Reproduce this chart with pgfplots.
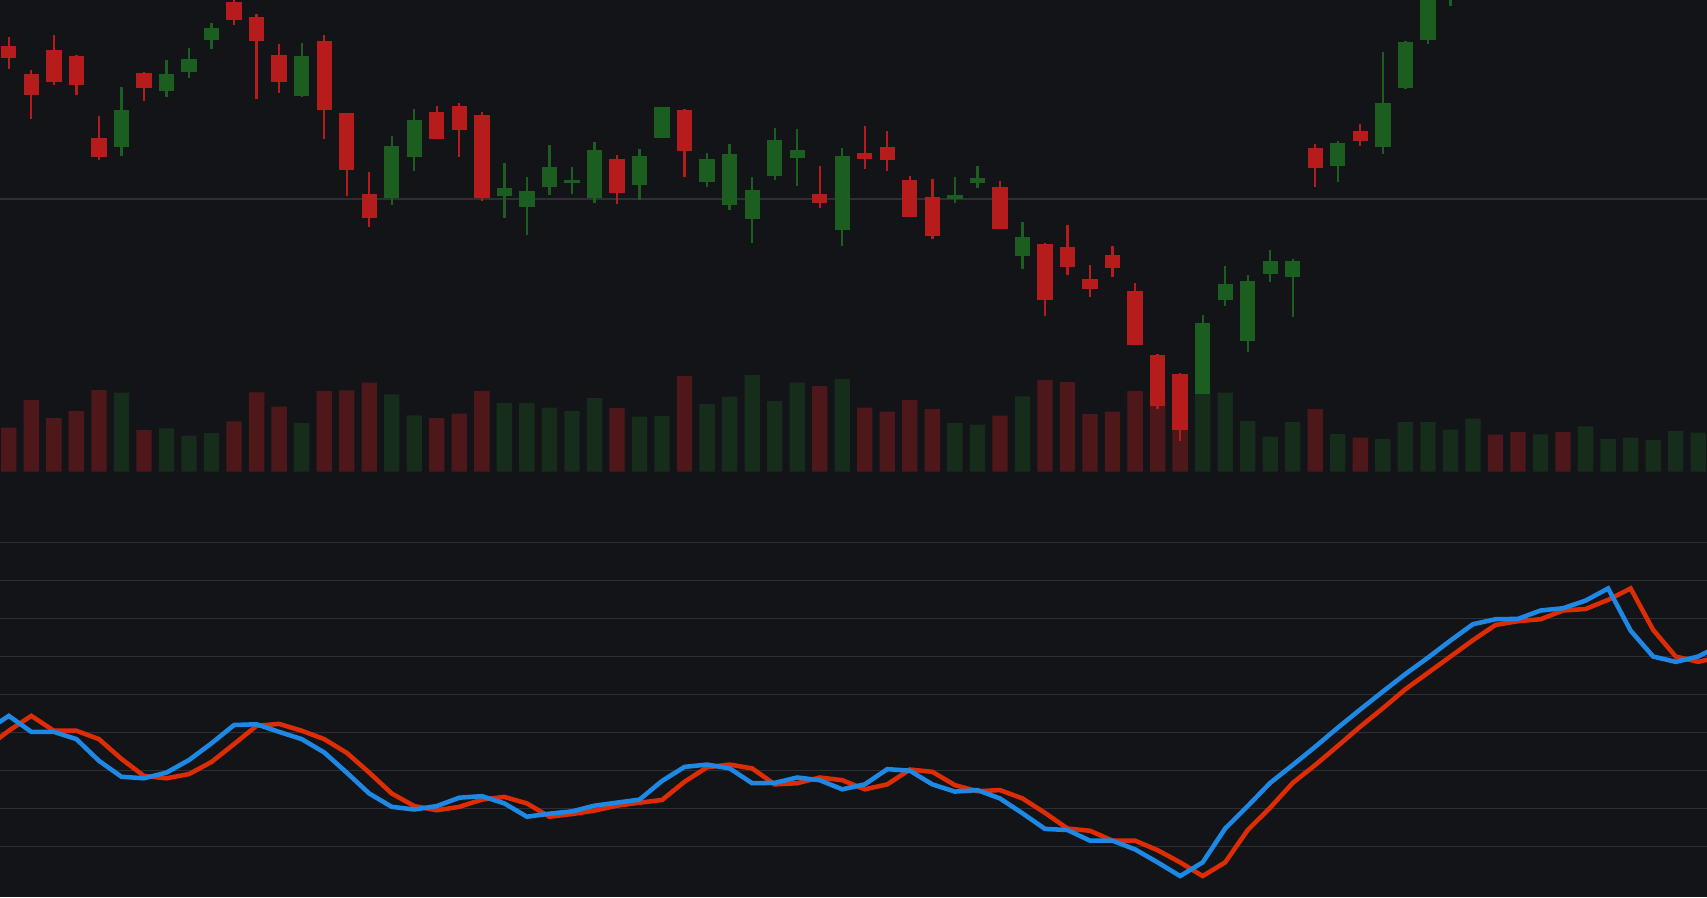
\documentclass[border=0pt]{standalone}
\usepackage{pgfplots}
\pgfplotsset{compat=1.18}
\usepackage{pgfplotstable}
\definecolor{bg}{RGB}{19,20,24}
\definecolor{gridc}{RGB}{46,47,52}
\definecolor{candleR}{RGB}{183,28,28}
\definecolor{candleG}{RGB}{27,94,32}
\definecolor{volR}{RGB}{78,24,27}
\definecolor{volG}{RGB}{22,45,28}
\definecolor{lineR}{RGB}{222,45,4}
\definecolor{lineB}{RGB}{30,136,229}

% down (red) candles: x, body top (open), body bottom (close), high, low
\pgfplotstableread{
x top bot h l
1 130.2 126.7 132.9 123.3
2 121.8 115.6 123.0 108.4
3 129.0 119.5 133.5 118.6
4 127.2 118.6 127.4 115.6
5 102.6 97.0 109.2 96.1
7 122.1 117.7 122.3 113.8
11 143.4 138.1 146.0 136.6
12 138.9 131.8 139.8 114.4
13 127.5 119.5 130.8 116.2
15 131.7 110.9 133.5 102.4
16 110.0 93.1 110.2 85.3
17 85.8 78.7 92.4 76.0
20 110.3 102.4 112.2 102.2
21 112.2 105.1 113.1 97.0
22 109.5 84.7 110.4 83.8
28 96.3 86.0 97.5 82.9
31 111.0 98.8 111.2 91.0
37 85.8 83.2 94.2 81.7
39 98.1 96.4 106.2 93.4
40 99.9 96.1 104.7 92.8
41 90.0 79.0 91.2 78.8
42 84.9 73.3 90.3 72.4
45 87.9 75.4 89.7 75.2
47 70.8 54.1 71.0 49.3
48 69.9 64.0 76.5 61.6
49 60.3 57.4 64.5 55.0
50 67.5 63.7 70.2 61.0
51 56.7 40.6 59.1 40.4
52 37.5 22.3 37.7 21.4
53 31.8 15.1 32.1 11.8
59 99.6 93.7 100.8 88.0
61 104.7 101.8 106.8 100.3
67 168.0 163.0 171.0 161.0
68 165.0 160.0 167.0 158.0
70 169.0 164.0 171.0 162.0
}\downtable

% up (green) candles: x, body top (close), body bottom (open), high, low
\pgfplotstableread{
x top bot h l
6 111.0 100.0 117.9 97.3
8 121.8 116.8 126.0 115.0
9 126.3 122.5 129.6 120.7
10 135.6 132.1 137.1 129.4
14 127.2 115.3 131.1 115.0
18 100.2 84.7 103.2 82.6
19 108.0 97.0 111.3 92.8
23 87.6 85.3 95.1 78.7
24 86.7 82.0 90.9 73.6
25 93.9 88.0 100.5 85.6
26 90.0 89.2 93.9 85.9
27 99.0 84.7 101.4 83.2
29 97.2 88.6 99.3 84.1
30 111.9 102.7 111.9 102.7
32 96.3 89.5 98.1 88.0
33 97.8 82.6 100.8 81.1
34 87.0 78.4 90.9 71.2
35 102.0 91.3 105.6 90.1
36 99.0 96.7 105.3 88.3
38 97.2 75.1 99.6 70.3
43 85.5 84.4 90.9 83.2
44 90.6 89.2 94.2 87.7
46 72.9 67.3 77.4 63.4
54 47.1 25.9 49.5 25.7
55 58.8 54.1 64.2 52.3
56 59.7 41.8 61.5 38.5
57 65.7 61.9 69.0 59.5
58 65.7 61.0 66.3 49.0
60 101.1 94.3 101.7 89.5
62 113.1 100.0 128.4 97.9
63 131.4 117.7 131.6 117.4
64 150.0 132.1 153.0 130.9
65 158.0 146.0 162.0 142.3
66 166.0 157.0 169.0 155.0
69 168.0 160.0 170.0 158.0
71 172.0 164.0 175.0 162.0
72 180.0 172.0 183.0 170.0
73 186.0 179.0 188.0 177.0
74 190.0 186.0 192.0 184.0
75 196.0 190.0 198.0 188.0
76 199.0 195.0 201.0 193.0
}\uptable

% oscillator: fast (blue) and signal (red)
\pgfplotstableread{
x blue red
0 40.5 36.0
1 44.4 40.5
2 40.2 44.4
3 40.2 40.5
4 38.3 40.5
5 32.6 38.3
6 28.4 33.1
7 28.0 28.6
8 29.5 28.0
9 32.8 29.1
10 37.2 32.3
11 42.0 37.0
12 42.2 41.8
13 40.2 42.3
14 38.3 40.5
15 34.8 38.3
16 29.5 34.7
17 24.0 29.5
18 20.5 24.0
19 19.8 20.7
20 20.7 19.6
21 22.9 20.5
22 23.3 22.4
23 21.4 23.1
24 17.9 21.4
25 18.7 17.9
26 19.3 18.6
27 20.8 19.5
28 21.6 20.8
29 22.4 21.6
30 27.3 22.3
31 31.0 27.1
32 31.6 30.9
33 30.6 31.6
34 26.7 30.6
35 26.8 26.4
36 28.2 26.7
37 27.5 28.2
38 25.1 27.5
39 26.4 25.1
40 30.4 26.4
41 30.0 30.3
42 26.4 29.7
43 24.5 26.2
44 24.9 24.6
45 22.7 24.9
46 18.8 22.7
47 14.7 18.9
48 14.4 14.8
49 11.6 14.2
50 11.6 11.6
51 9.3 11.6
52 5.9 9.1
53 2.3 5.9
54 5.9 2.3
55 14.8 5.9
56 20.7 14.4
57 26.8 20.3
58 31.5 26.8
59 36.3 31.5
60 41.3 36.5
61 46.1 41.6
62 50.8 46.4
63 55.4 51.4
64 59.7 55.7
65 64.2 60.0
66 68.5 64.3
67 69.8 68.3
68 69.9 69.3
69 72.1 69.8
70 72.7 72.1
71 74.7 72.5
72 77.9 74.9
73 66.8 77.9
74 60.0 67.0
75 58.6 60.0
76 60.0 58.6
77 63.1 60.0
}\osctable

\pgfplotsset{
  base/.style={scale only axis, width=470.4pt, xmin=0.6085, xmax=76.39,
    axis line style={draw=none}, xtick=\empty, major tick length=0pt,
    yticklabels={}, clip=true, anchor=south west,
    major grid style={draw=gridc, line width=0.35pt}},
}

\begin{document}
\begin{tikzpicture}
\useasboundingbox (0,0) rectangle (470.4pt,247.2pt);
\fill[bg] (0,0) rectangle (470.4pt,247.2pt);

% volume
\begin{axis}[base, at={(0pt,117.22pt)}, height=36.74pt, ymin=0, ymax=4000, ytick=\empty]
\addplot[ybar, bar width=0.68, bar shift=0pt, fill=volR, draw=none] coordinates {
(1,1320)(2,2150)(3,1610)(4,1820)(5,2450)(7,1250)(11,1510)(12,2380)(13,1950)(15,2420)
(16,2440)(17,2670)(20,1610)(21,1740)(22,2420)(28,1910)(31,2870)(37,2570)(39,1920)(40,1800)
(41,2150)(42,1880)(45,1680)(47,2750)(48,2690)(49,1730)(50,1800)(51,2420)(52,2300)(53,2200)
(59,1880)(61,1020)(67,1110)(68,1190)(70,1190)};
\addplot[ybar, bar width=0.68, bar shift=0pt, fill=volG, draw=none] coordinates {
(6,2370)(8,1300)(9,1080)(10,1160)(14,1460)(18,2320)(19,1690)(23,2060)(24,2060)(25,1920)
(26,1820)(27,2210)(29,1650)(30,1670)(32,2030)(33,2250)(34,2900)(35,2120)(36,2670)(38,2780)
(43,1460)(44,1410)(46,2260)(54,2400)(55,2370)(56,1520)(57,1050)(58,1490)(60,1130)(62,980)
(63,1490)(64,1490)(65,1260)(66,1590)(69,1120)(71,1360)(72,980)(73,1020)(74,950)(75,1220)
(76,1170)};
\end{axis}

% price candles
\begin{axis}[base, at={(0pt,114.92pt)}, height=132.28pt, ymin=0, ymax=144,
  ytick={84.3}, ymajorgrids]
% wicks
\addplot[draw=none, forget plot, error bars/.cd, y dir=plus, y explicit, error mark=none,
  error bar style={draw=candleR, line width=0.63pt}]
  table[x=x, y=l, y error expr=\thisrow{h}-\thisrow{l}] {\downtable};
\addplot[draw=none, forget plot, error bars/.cd, y dir=plus, y explicit, error mark=none,
  error bar style={draw=candleG, line width=0.63pt}]
  table[x=x, y=l, y error expr=\thisrow{h}-\thisrow{l}] {\uptable};
% bodies
\addplot[draw=none, forget plot, error bars/.cd, y dir=plus, y explicit, error mark=none,
  error bar style={draw=candleR, line width=4.22pt}]
  table[x=x, y=bot, y error expr=\thisrow{top}-\thisrow{bot}] {\downtable};
\addplot[draw=none, forget plot, error bars/.cd, y dir=plus, y explicit, error mark=none,
  error bar style={draw=candleG, line width=4.22pt}]
  table[x=x, y=bot, y error expr=\thisrow{top}-\thisrow{bot}] {\uptable};
\end{axis}

% oscillator
\begin{axis}[base, at={(0pt,0pt)}, height=108.22pt, ymin=-3.22, ymax=100,
  ytick={10,20,...,90}, ymajorgrids]
\addplot[draw=lineR, line width=1.25pt, line join=miter] table[x=x, y=red] {\osctable};
\addplot[draw=lineB, line width=1.25pt, line join=miter] table[x=x, y=blue] {\osctable};
\end{axis}
\end{tikzpicture}
\end{document}
